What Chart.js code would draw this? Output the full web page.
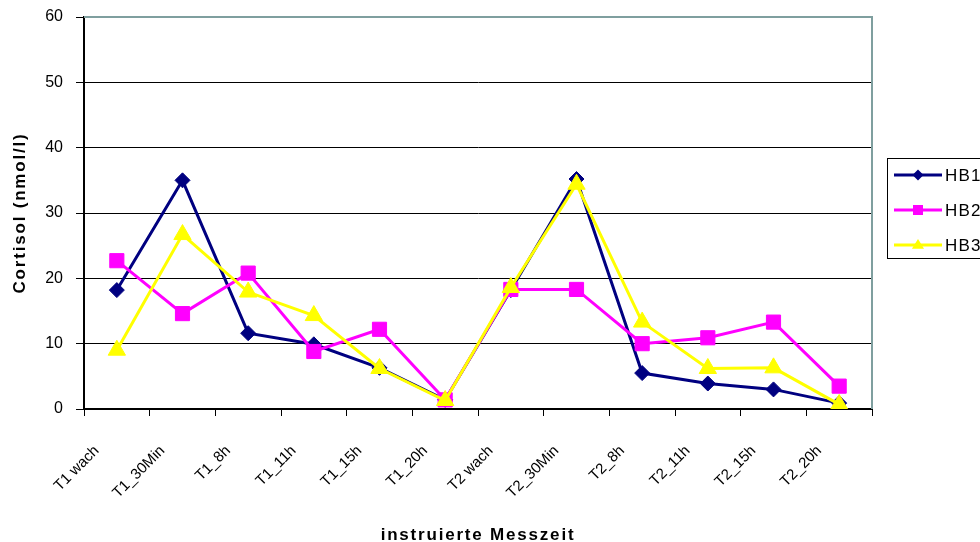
<!DOCTYPE html>
<html lang="de">
<head>
<meta charset="UTF-8">
<title>Cortisol</title>
<script src="https://cdn.jsdelivr.net/npm/chart.js"></script>
<style>
  html, body { margin: 0; padding: 0; background: #fff; }
  #wrap { width: 980px; height: 542px; }
</style>
</head>
<body>
<div id="wrap"><canvas id="cortisolChart" width="980" height="542"></canvas></div>
<script>
const categories = ['T1 wach', 'T1_30Min', 'T1_8h', 'T1_11h', 'T1_15h', 'T1_20h',
                    'T2 wach', 'T2_30Min', 'T2_8h', 'T2_11h', 'T2_15h', 'T2_20h'];
const hb1 = [18.2, 35.0, 11.6, 9.9, 6.3, 1.4, 18.2, 35.2, 5.5, 3.9, 3.0, 0.9];
const hb2 = [22.7, 14.6, 20.8, 8.8, 12.2, 1.4, 18.3, 18.3, 10.0, 10.9, 13.3, 3.5];
const hb3 = [9.0, 26.7, 17.9, 14.3, 6.2, 1.3, 18.6, 34.4, 13.3, 6.2, 6.3, 0.7];
const yTicks = [0, 10, 20, 30, 40, 50, 60];

const xTitle = 'instruierte Messzeit';
const yTitle = 'Cortisol (nmol/l)';
const FONT = "'Liberation Sans', Arial, sans-serif";
const frameColor = '#7f9f9f';

// marker shapes for the legend entries
function marker(ctx, style, x, y, r, color) {
  ctx.save();
  ctx.fillStyle = color;
  ctx.beginPath();
  if (style === 'rectRot') {
    ctx.moveTo(x, y - r); ctx.lineTo(x + r, y); ctx.lineTo(x, y + r); ctx.lineTo(x - r, y);
  } else if (style === 'rect') {
    ctx.rect(x - r, y - r, 2 * r, 2 * r);
  } else {
    ctx.moveTo(x, y - r * 1.1); ctx.lineTo(x + r * 1.1, y + r * 0.7); ctx.lineTo(x - r * 1.1, y + r * 0.7);
  }
  ctx.closePath();
  ctx.fill();
  ctx.restore();
}

const framePlugin = {
  id: 'frame',
  afterDraw(chart) {
    const { ctx, chartArea: a } = chart;
    ctx.save();

    // grey frame on top and right of the plot area
    ctx.strokeStyle = frameColor;
    ctx.lineWidth = 2;
    ctx.beginPath();
    ctx.moveTo(a.left, a.top);
    ctx.lineTo(a.right, a.top);
    ctx.lineTo(a.right, a.bottom);
    ctx.stroke();

    // axis titles
    ctx.fillStyle = '#000';
    ctx.font = 'bold 17px ' + FONT;
    ctx.letterSpacing = '1.8px';
    ctx.textAlign = 'center';
    ctx.textBaseline = 'alphabetic';
    ctx.fillText(xTitle, 478, 540);
    ctx.translate(25, 213);
    ctx.rotate(-Math.PI / 2);
    ctx.fillText(yTitle, 0, 0);
    ctx.restore();

    // legend box, running off the right edge
    ctx.save();
    ctx.strokeStyle = '#000';
    ctx.lineWidth = 1;
    ctx.strokeRect(887.5, 158.5, 200, 100);
    ctx.font = '17px ' + FONT;
    ctx.letterSpacing = '1.2px';
    ctx.textBaseline = 'middle';
    ctx.fillStyle = '#000';
    chart.data.datasets.forEach((ds, i) => {
      const y = 175 + i * 35;
      ctx.strokeStyle = ds.borderColor;
      ctx.lineWidth = 3;
      ctx.beginPath();
      ctx.moveTo(894, y);
      ctx.lineTo(942, y);
      ctx.stroke();
      marker(ctx, ds.pointStyle, 918, y, ds.pointStyle === 'rect' ? 5 : 5.5, ds.borderColor);
      ctx.fillText(ds.label, 945, y + 1);
    });
    ctx.restore();
  }
};

const ctx = document.getElementById('cortisolChart').getContext('2d');
new Chart(ctx, {
  type: 'line',
  data: {
    labels: categories,
    datasets: [
      { label: 'HB1', data: hb1, borderColor: '#000080', backgroundColor: '#000080',
        pointStyle: 'rectRot', pointRadius: 7.5, order: 2 },
      { label: 'HB2', data: hb2, borderColor: '#ff00ff', backgroundColor: '#ff00ff',
        pointStyle: 'rect', pointRadius: 10, order: 1 },
      { label: 'HB3', data: hb3, borderColor: '#ffff00', backgroundColor: '#ffff00',
        pointStyle: 'triangle', pointRadius: 10, order: 0 }
    ].map(d => Object.assign({ borderWidth: 3, tension: 0, fill: false,
      pointBorderWidth: 1, pointBorderColor: d.borderColor, pointBackgroundColor: d.borderColor }, d))
  },
  options: {
    responsive: false,
    animation: false,
    events: [],
    layout: { padding: { top: 17, right: 108, bottom: 0, left: 0 } },
    plugins: { legend: { display: false }, tooltip: { enabled: false } },
    scales: {
      x: {
        offset: true,
        grid: { offset: true, drawOnChartArea: false, color: '#000', tickLength: 7 },
        border: { color: '#000', width: 2 },
        ticks: {
          autoSkip: false, minRotation: 45, maxRotation: 45,
          padding: 26, labelOffset: -20,
          color: '#000', font: { family: FONT, size: 15 }
        },
        afterFit(scale) { scale.height = 133; }
      },
      y: {
        min: 0, max: 60,
        afterBuildTicks(scale) { scale.ticks = yTicks.map(v => ({ value: v })); },
        grid: {
          color: c => (c.tick && c.tick.value === 60) ? frameColor : '#000',
          tickColor: '#000', tickLength: 8, lineWidth: 1
        },
        border: { color: '#000', width: 2 },
        ticks: { padding: 13, color: '#000', font: { family: FONT, size: 16 } },
        afterFit(scale) {
          scale.width = 84;
          // label gap is wide, but the plot should still start near the top
          scale.paddingTop = 8;
          scale.paddingBottom = 8;
        }
      }
    }
  },
  plugins: [framePlugin]
});
</script>
</body>
</html>
